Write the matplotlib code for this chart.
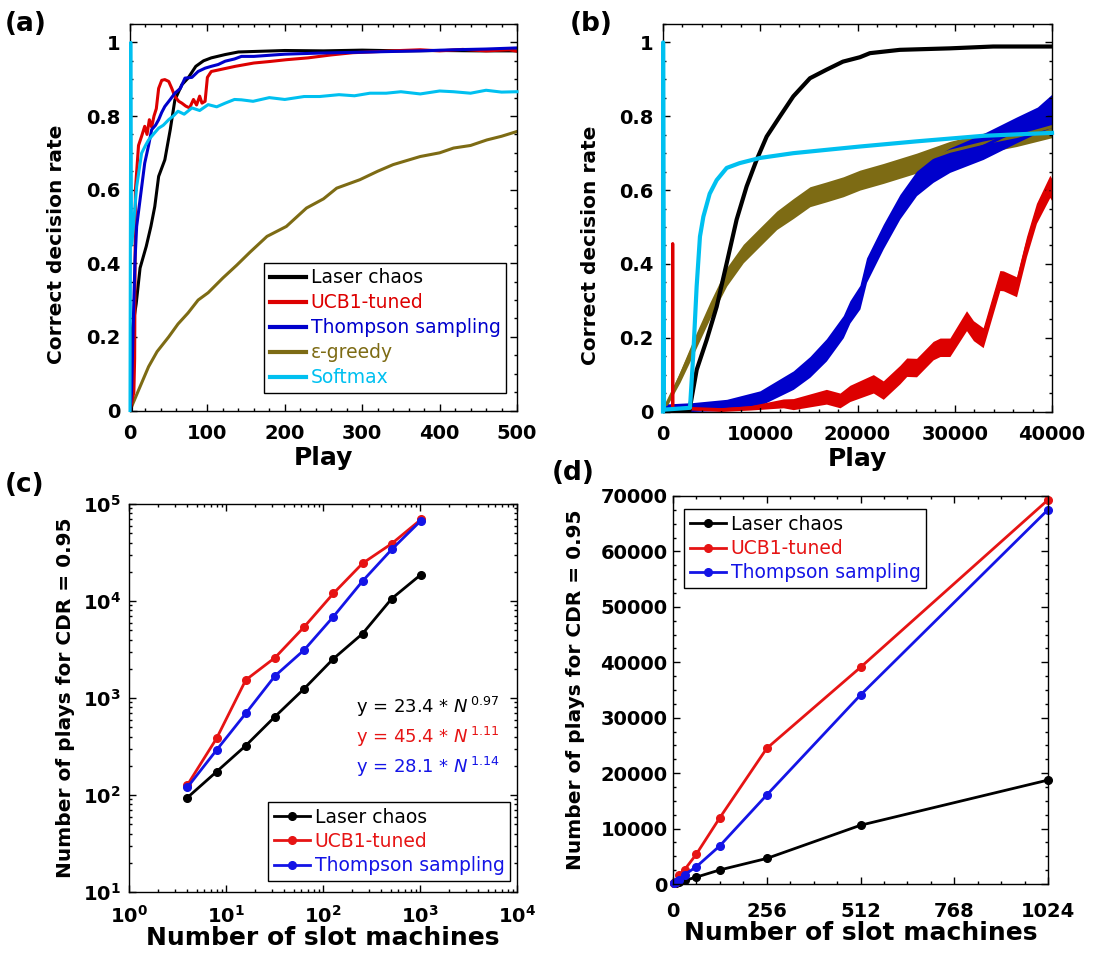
import matplotlib
matplotlib.use('Agg')
import matplotlib.pyplot as plt
from matplotlib.ticker import MultipleLocator, NullFormatter, LogLocator
import numpy as np

plt.rcParams['font.family'] = ['DejaVu Sans']

# ---------------- data: panel (a) ----------------
a_lc_play = [0, 2, 3, 8, 13, 21, 27, 32, 37, 45, 52, 58, 67, 75, 85, 95, 105, 123, 140, 170, 200, 250, 300, 350, 400, 450, 500]
a_lc_val = [0, 0, 0.22, 0.29, 0.387, 0.446, 0.50, 0.554, 0.636, 0.681, 0.763, 0.844, 0.885, 0.903, 0.935, 0.950, 0.958, 0.967, 0.974, 0.976, 0.978, 0.977, 0.979, 0.977, 0.978, 0.977, 0.977]

a_ucb_play = [0, 5, 6, 7, 11, 15, 19, 22, 25, 28, 31, 34, 37, 41, 45, 50, 54, 58, 63, 67, 72, 77, 82, 86, 90, 93, 97, 100, 105, 114, 125, 136, 160, 180, 202, 230, 260, 288, 320, 350, 375, 400, 430, 460, 490, 500]
a_ucb_val = [0, 0.05, 0.14, 0.60, 0.72, 0.745, 0.772, 0.75, 0.79, 0.77, 0.80, 0.82, 0.875, 0.897, 0.899, 0.894, 0.875, 0.853, 0.84, 0.835, 0.827, 0.822, 0.845, 0.83, 0.854, 0.835, 0.84, 0.905, 0.921, 0.925, 0.93, 0.935, 0.944, 0.948, 0.953, 0.958, 0.966, 0.972, 0.975, 0.978, 0.98, 0.977, 0.981, 0.977, 0.98, 0.976]

a_ts_play = [0, 2, 5, 6.5, 8.6, 13, 19, 24, 28, 33, 37, 41, 45, 52, 58, 65, 71, 80, 88, 97, 105, 114, 123, 135, 144, 160, 200, 245, 290, 331, 375, 418, 460, 500]
a_ts_val = [0, 0.05, 0.30, 0.41, 0.50, 0.573, 0.672, 0.72, 0.763, 0.775, 0.79, 0.81, 0.826, 0.845, 0.862, 0.875, 0.903, 0.905, 0.921, 0.93, 0.935, 0.94, 0.949, 0.955, 0.962, 0.962, 0.968, 0.971, 0.973, 0.975, 0.977, 0.98, 0.982, 0.985]

a_eg_play = [0, 10, 24, 35, 50, 62, 75, 88, 101, 120, 138, 155, 177, 202, 228, 250, 267, 297, 320, 340, 375, 400, 418, 440, 461, 480, 500]
a_eg_val = [0, 0.05, 0.119, 0.16, 0.2, 0.235, 0.265, 0.30, 0.32, 0.36, 0.395, 0.43, 0.473, 0.5, 0.55, 0.575, 0.604, 0.627, 0.65, 0.668, 0.69, 0.70, 0.713, 0.72, 0.735, 0.745, 0.758]

a_sm_play = [0, 1, 2, 4, 8.6, 15, 20, 24, 30, 37, 43, 50, 56, 62, 70, 80, 90, 101, 112, 123, 135, 144, 159, 180, 200, 225, 245, 270, 290, 310, 331, 350, 375, 400, 418, 440, 460, 480, 500]
a_sm_val = [0, 1.0, 0.45, 0.49, 0.608, 0.699, 0.72, 0.735, 0.75, 0.767, 0.775, 0.79, 0.80, 0.813, 0.805, 0.822, 0.815, 0.831, 0.825, 0.835, 0.845, 0.844, 0.84, 0.85, 0.845, 0.853, 0.853, 0.858, 0.855, 0.862, 0.862, 0.866, 0.86, 0.868, 0.866, 0.862, 0.87, 0.865, 0.866]

# ---------------- data: panel (b) ----------------
b_lc_play = [0, 2700, 2900, 3464, 4490, 5520, 6550, 7570, 8600, 9630, 10660, 12030, 13400, 15110, 16800, 18500, 20250, 21280, 24360, 29500, 33950, 40000]
b_lc_val = [0, 0, 0.03, 0.113, 0.194, 0.284, 0.402, 0.52, 0.61, 0.682, 0.745, 0.80, 0.854, 0.903, 0.926, 0.948, 0.96, 0.971, 0.98, 0.984, 0.989, 0.989]

b_sm_play = [0, 10, 100, 2776, 3120, 3460, 3800, 4150, 4800, 5520, 6550, 7880, 9970, 13400, 16800, 20250, 26070, 32920, 40000]
b_sm_val = [0, 1.0, 0.005, 0.01, 0.158, 0.339, 0.474, 0.528, 0.59, 0.627, 0.66, 0.673, 0.687, 0.70, 0.709, 0.718, 0.732, 0.747, 0.755]

b_eg_play = [0, 1750, 3120, 4830, 6550, 8260, 9970, 11690, 13400, 15110, 16800, 18540, 20250, 22650, 26070, 29500, 32920, 36350, 40000]
b_eg_mid = [0, 0.094, 0.175, 0.274, 0.365, 0.428, 0.473, 0.518, 0.55, 0.582, 0.595, 0.609, 0.627, 0.645, 0.673, 0.705, 0.727, 0.745, 0.772]
b_eg_spread = [0.005, 0.015, 0.02, 0.022, 0.025, 0.025, 0.025, 0.025, 0.027, 0.027, 0.027, 0.027, 0.027, 0.027, 0.027, 0.027, 0.027, 0.027, 0.03]

b_ts_play = [0, 3000, 6550, 9970, 13400, 15110, 16800, 18540, 19220, 20250, 20930, 22650, 24360, 26070, 27780, 29500, 32920, 36350, 38500, 40000]
b_ts_mid = [0.01, 0.012, 0.018, 0.036, 0.085, 0.121, 0.167, 0.23, 0.27, 0.31, 0.383, 0.474, 0.555, 0.618, 0.654, 0.681, 0.718, 0.763, 0.79, 0.815]
b_ts_spread = [0.01, 0.012, 0.015, 0.02, 0.025, 0.028, 0.03, 0.03, 0.03, 0.032, 0.033, 0.033, 0.033, 0.033, 0.033, 0.033, 0.035, 0.035, 0.035, 0.045]

b_ucb_play = [0, 980, 1000, 1020, 3000, 6000, 9000, 12370, 13400, 16800, 18200, 19220, 21630, 22650, 24360, 25060, 26070, 27780, 28490, 29500, 31210, 31920, 32920, 34640, 35000, 36350, 37380, 38400, 39780, 40000]
b_ucb_mid = [0, 0.005, 0.455, 0.005, 0.008, 0.005, 0.01, 0.022, 0.02, 0.04, 0.03, 0.049, 0.075, 0.058, 0.10, 0.12, 0.119, 0.165, 0.174, 0.174, 0.246, 0.219, 0.2, 0.355, 0.354, 0.338, 0.447, 0.537, 0.61, 0.60]
b_ucb_spread = [0, 0, 0, 0, 0.004, 0.005, 0.006, 0.012, 0.015, 0.02, 0.02, 0.022, 0.025, 0.025, 0.025, 0.025, 0.025, 0.025, 0.025, 0.025, 0.027, 0.027, 0.027, 0.027, 0.027, 0.027, 0.027, 0.027, 0.03, 0.03]

# ---------------- data: panels (c), (d) ----------------
n_machines = [4, 8, 16, 32, 64, 128, 256, 512, 1024]
plays_laser = [94, 174, 323, 643, 1248, 2540, 4610, 10600, 18750]
plays_ucb = [127, 384, 1535, 2605, 5410, 11970, 24470, 39090, 69300]
plays_ts = [120, 291, 695, 1690, 3130, 6900, 16060, 34100, 67530]

fit_texts = [r'y = 23.4 * $\mathit{N}^{\,0.97}$',
             r'y = 45.4 * $\mathit{N}^{\,1.11}$',
             r'y = 28.1 * $\mathit{N}^{\,1.14}$']

names5 = ['Laser chaos', 'UCB1-tuned', 'Thompson sampling', '\u03b5-greedy', 'Softmax']
names3 = ['Laser chaos', 'UCB1-tuned', 'Thompson sampling']

# ---------------- styling ----------------
C_BLACK = '#000000'
C_RED = '#dd0000'
C_BLUE = '#0000cc'
C_OLIVE = '#7d6b14'
C_CYAN = '#00c0f0'
C_RED2 = '#e61414'
C_BLUE2 = '#1414e6'
TICK_FS = 14

W, H = 1111, 958
fig = plt.figure(figsize=(W / 100, H / 100), dpi=100)


def axes_px(l, t, r, b):
    return fig.add_axes([l / W, 1 - b / H, (r - l) / W, (b - t) / H])


def style(ax, xpad=10, ypad=7):
    ax.tick_params(which='both', direction='in', top=True, right=True,
                   width=1, colors='black')
    ax.tick_params(which='major', length=5)
    ax.tick_params(which='minor', length=2.5)
    ax.tick_params(axis='x', which='major', pad=xpad)
    ax.tick_params(axis='y', which='major', pad=ypad)
    for s in ax.spines.values():
        s.set_linewidth(1.0)
        s.set_color('black')


def bold_ticks(ax, xt, xl, yt, yl):
    ax.set_xticks(xt)
    ax.set_xticklabels(xl, fontweight='bold', fontsize=TICK_FS)
    ax.set_yticks(yt)
    ax.set_yticklabels(yl, fontweight='bold', fontsize=TICK_FS)


def legend(ax, handles, labels, colors, anchor, spacing):
    leg = ax.legend(handles, labels, loc='upper left', bbox_to_anchor=anchor, borderaxespad=0,
                    frameon=True, fancybox=False, edgecolor='black', framealpha=1,
                    prop={'size': 13.5}, handlelength=1.95, handletextpad=0.25,
                    labelspacing=spacing, borderpad=0.3, numpoints=1)
    leg.get_frame().set_linewidth(1.0)
    for t, c in zip(leg.get_texts(), colors):
        t.set_color(c)
    return leg


ylab_kw = dict(fontsize=14.5, fontweight='bold')
xlab_kw = dict(fontsize=18, fontweight='bold')
rate_ticks = [0, 0.2, 0.4, 0.6, 0.8, 1.0]
rate_labels = ['0', '0.2', '0.4', '0.6', '0.8', '1']

# ---------------- panel (a) ----------------
axa = axes_px(130, 24, 517, 410.5)
lw_a = 2.2
l_eg, = axa.plot(a_eg_play, a_eg_val, color=C_OLIVE, lw=lw_a)
l_sm, = axa.plot(a_sm_play, a_sm_val, color=C_CYAN, lw=lw_a, zorder=3, clip_on=False)
l_lc, = axa.plot(a_lc_play, a_lc_val, color=C_BLACK, lw=lw_a)
l_ucb, = axa.plot(a_ucb_play, a_ucb_val, color=C_RED, lw=lw_a)
l_ts, = axa.plot(a_ts_play, a_ts_val, color=C_BLUE, lw=lw_a)
axa.set_xlim(0, 500)
axa.set_ylim(0, 1.05)
style(axa)
bold_ticks(axa, [0, 100, 200, 300, 400, 500], ['0', '100', '200', '300', '400', '500'],
           rate_ticks, rate_labels)
axa.xaxis.set_minor_locator(MultipleLocator(20))
axa.yaxis.set_minor_locator(MultipleLocator(0.05))
axa.set_xlabel('Play', labelpad=2, **xlab_kw)
axa.set_ylabel('Correct decision rate', **ylab_kw)
axa.yaxis.set_label_coords(-0.165, 0.43)
leg = legend(axa, [l_lc, l_ucb, l_ts, l_eg, l_sm], names5,
             [C_BLACK, C_RED, C_BLUE, C_OLIVE, C_CYAN], (0.346, 0.382), 0.32)
for lh in leg.get_lines():
    lh.set_linewidth(3)

# ---------------- panel (b) ----------------
axb = axes_px(663, 24, 1052, 411.5)


def band(ax, x, mid, spread, color):
    x = np.asarray(x, float)
    mid = np.asarray(mid, float)
    spread = np.asarray(spread, float)
    ax.fill_between(x, mid - spread, mid + spread, color=color, lw=0)
    ax.plot(x, mid, color=color, lw=2.2)


band(axb, b_eg_play, b_eg_mid, b_eg_spread, C_OLIVE)
band(axb, b_ts_play, b_ts_mid, b_ts_spread, C_BLUE)
band(axb, b_ucb_play, b_ucb_mid, b_ucb_spread, C_RED)
axb.plot(b_sm_play, b_sm_val, color=C_CYAN, lw=3, zorder=3, clip_on=False)
axb.plot(b_lc_play, b_lc_val, color=C_BLACK, lw=3)
axb.set_xlim(0, 40000)
axb.set_ylim(0, 1.05)
style(axb)
bold_ticks(axb, [0, 10000, 20000, 30000, 40000], ['0', '10000', '20000', '30000', '40000'],
           rate_ticks, rate_labels)
axb.xaxis.set_minor_locator(MultipleLocator(2000))
axb.yaxis.set_minor_locator(MultipleLocator(0.05))
axb.set_xlabel('Play', labelpad=2, **xlab_kw)
axb.set_ylabel('Correct decision rate', **ylab_kw)
axb.yaxis.set_label_coords(-0.162, 0.43)

# ---------------- panel (c) ----------------
axc = axes_px(129, 504, 517, 892)
mk = dict(marker='o', markersize=5.5, lw=2, clip_on=False)
hc = [axc.plot(n_machines, plays_laser, color=C_BLACK, **mk)[0],
      axc.plot(n_machines, plays_ucb, color=C_RED2, **mk)[0],
      axc.plot(n_machines, plays_ts, color=C_BLUE2, **mk)[0]]
axc.set_xscale('log')
axc.set_yscale('log')
style(axc, xpad=9, ypad=6)
bold_ticks(axc, [1, 10, 100, 1000, 10000],
           [r'$\mathbf{10^{%d}}$' % k for k in range(0, 5)],
           [10, 100, 1000, 10000, 100000],
           [r'$\mathbf{10^{%d}}$' % k for k in range(1, 6)])
axc.xaxis.set_minor_locator(LogLocator(base=10, subs=range(2, 10), numticks=20))
axc.yaxis.set_minor_locator(LogLocator(base=10, subs=range(2, 10), numticks=20))
axc.xaxis.set_minor_formatter(NullFormatter())
axc.yaxis.set_minor_formatter(NullFormatter())
axc.set_xlim(1, 1e4)
axc.set_ylim(10, 1e5)
axc.set_xlabel('Number of slot machines', labelpad=0, **xlab_kw)
axc.set_ylabel('Number of plays for CDR = 0.95', **ylab_kw)
axc.yaxis.set_label_coords(-0.139, 0.5)
for txt, col, yy in zip(fit_texts, [C_BLACK, C_RED2, C_BLUE2], [0.477, 0.400, 0.323]):
    axc.text(0.585, yy, txt, color=col, fontsize=13, transform=axc.transAxes,
             ha='left', va='center')
legend(axc, hc, names3, [C_BLACK, C_RED2, C_BLUE2], (0.358, 0.232), 0.28)

# ---------------- panel (d) ----------------
axd = axes_px(673, 496, 1048, 884)
hd = [axd.plot(n_machines, plays_laser, color=C_BLACK, **mk)[0],
      axd.plot(n_machines, plays_ucb, color=C_RED2, **mk)[0],
      axd.plot(n_machines, plays_ts, color=C_BLUE2, **mk)[0]]
axd.set_xlim(0, 1024)
axd.set_ylim(0, 70000)
style(axd, xpad=13, ypad=4)
bold_ticks(axd, [0, 256, 512, 768, 1024], ['0', '256', '512', '768', '1024'],
           list(range(0, 70001, 10000)), [str(v) for v in range(0, 70001, 10000)])
axd.xaxis.set_minor_locator(MultipleLocator(64))
axd.yaxis.set_minor_locator(MultipleLocator(2500))
axd.set_xlabel('Number of slot machines', labelpad=0, **xlab_kw)
axd.set_ylabel('Number of plays for CDR = 0.95', **ylab_kw)
axd.yaxis.set_label_coords(-0.235, 0.5)
legend(axd, hd, names3, [C_BLACK, C_RED2, C_BLUE2], (0.029, 0.966), 0.28)

# ---------------- panel letters ----------------
for lab, x, y in [('(a)', 5, 24), ('(b)', 570, 24), ('(c)', 5, 485), ('(d)', 552, 473)]:
    fig.text(x / W, 1 - y / H, lab, fontsize=19, fontweight='bold', ha='left', va='center')

fig.savefig('out.png', dpi=100)
